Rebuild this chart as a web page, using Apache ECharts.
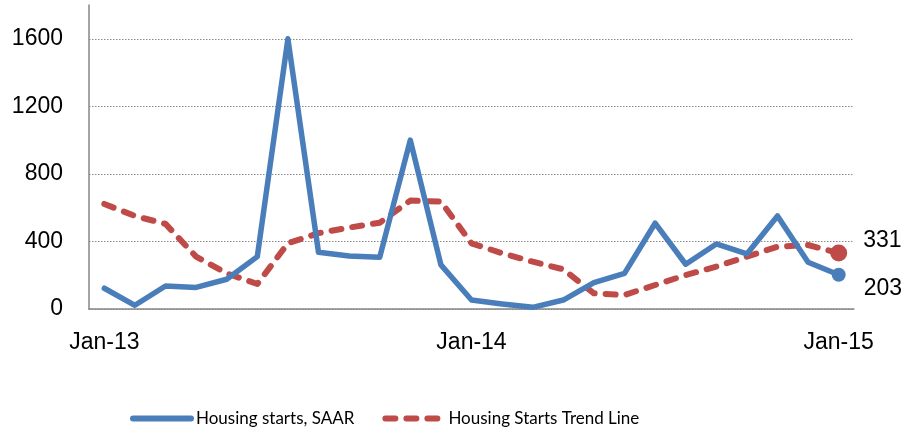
<!DOCTYPE html>
<html>
<head>
<meta charset="utf-8">
<script src="https://cdn.jsdelivr.net/npm/echarts@6/dist/echarts.min.js"></script>
<style>html,body{margin:0;padding:0;background:#fff}#c{width:909px;height:438px}</style>
</head>
<body>
<div id="c"></div>
<script>
const months = ["Jan-13","Feb-13","Mar-13","Apr-13","May-13","Jun-13","Jul-13","Aug-13","Sep-13","Oct-13","Nov-13","Dec-13",
  "Jan-14","Feb-14","Mar-14","Apr-14","May-14","Jun-14","Jul-14","Aug-14","Sep-14","Oct-14","Nov-14","Dec-14","Jan-15"];
const housingStarts = [123, 22, 136, 128, 176, 310, 1600, 336, 314, 306, 1000, 261,
  53, 30, 10, 53, 156, 211, 508, 265, 385, 326, 551, 277, 203];
const trendLine = [622, 551, 504, 310, 211, 148, 389, 449, 482, 511, 642, 636,
  389, 330, 280, 235, 93, 83, 142, 201, 251, 310, 369, 379, 331];
const yTicks = [0, 400, 800, 1200, 1600];
const seriesNames = ["Housing starts, SAAR", "Housing Starts Trend Line"];

const BLUE = '#4A7EBB', RED = '#BE4B48';
const FONT = "'Liberation Sans', Arial, sans-serif";
const LEGFONT = "Lato, 'Liberation Sans', sans-serif";
const last = months.length - 1;

const chart = echarts.init(document.getElementById('c'), null, {renderer: 'canvas'});
chart.setOption({
  animation: false,
  backgroundColor: '#fff',
  grid: {left: 89, right: 55, top: 5, bottom: 129, containLabel: false},
  legend: {
    data: seriesNames,
    left: 125, bottom: 6,
    itemWidth: 58, itemHeight: 14, itemGap: 28,
    itemStyle: {opacity: 0},
    lineStyle: {width: 6, cap: 'round'},
    textStyle: {fontFamily: LEGFONT, fontSize: 17, color: '#000'}
  },
  xAxis: {
    type: 'category',
    data: months,
    boundaryGap: true,
    axisLine: {lineStyle: {color: '#868686', width: 1.5}},
    axisTick: {interval: 0, length: 8, lineStyle: {color: '#868686', width: 1.5}},
    axisLabel: {interval: 11, margin: 22, fontFamily: FONT, fontSize: 23, color: '#000'},
    splitLine: {show: false}
  },
  yAxis: {
    type: 'value',
    min: yTicks[0], max: 1800, interval: 400,
    axisLine: {show: true, lineStyle: {color: '#868686', width: 1.5}},
    axisTick: {show: false},
    axisLabel: {margin: 26, fontFamily: FONT, fontSize: 23, color: '#000', showMaxLabel: false,
      formatter: v => yTicks.includes(v) ? String(v) : ''},
    splitLine: {show: true, showMaxLine: false, lineStyle: {color: '#8a8a8a', type: [1.5, 1.5], width: 1}}
  },
  series: [
    {
      name: seriesNames[0], type: 'line', data: housingStarts,
      symbol: 'none', z: 3,
      lineStyle: {color: BLUE, width: 5.5, join: 'round', cap: 'round'},
      itemStyle: {color: BLUE}
    },
    {
      name: seriesNames[1], type: 'line', data: trendLine,
      symbol: 'none', z: 2,
      lineStyle: {color: RED, width: 6, type: [10, 11], cap: 'round', join: 'round'},
      itemStyle: {color: RED}
    },
    {
      name: 'endRed', type: 'scatter', z: 4,
      data: [[last, trendLine[last]]],
      symbolSize: 17, itemStyle: {color: RED, opacity: 1},
      label: {show: true, position: 'right', distance: 16, offset: [0, -12],
        formatter: p => String(p.value[1]), fontFamily: FONT, fontSize: 23, color: '#000'}
    },
    {
      name: 'endBlue', type: 'scatter', z: 5,
      data: [[last, housingStarts[last]]],
      symbolSize: 14, itemStyle: {color: BLUE, opacity: 1},
      label: {show: true, position: 'right', distance: 18, offset: [0, 14],
        formatter: p => String(p.value[1]), fontFamily: FONT, fontSize: 23, color: '#000'}
    }
  ]
});
</script>
</body>
</html>
